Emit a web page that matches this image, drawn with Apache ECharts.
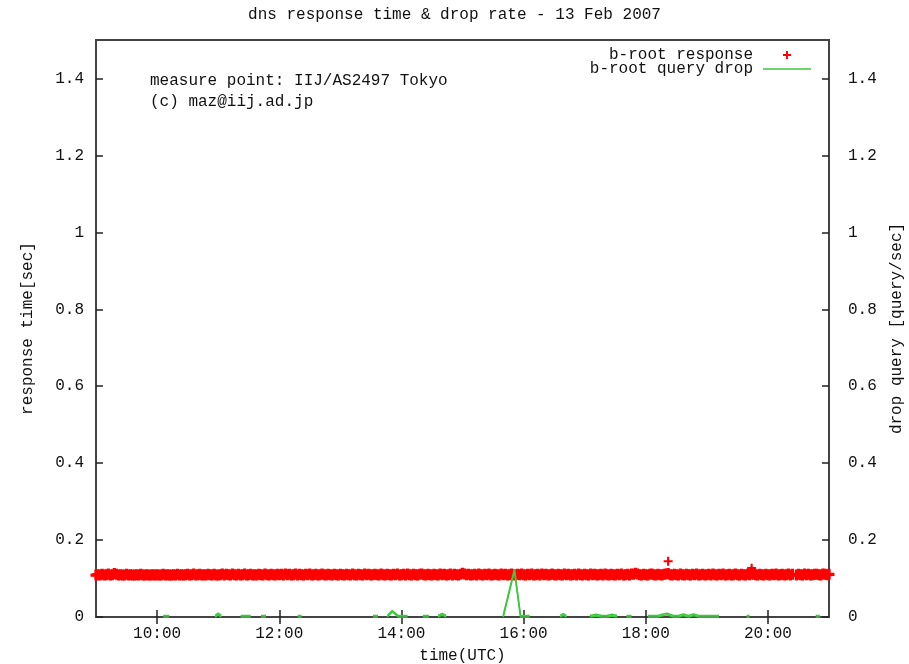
<!DOCTYPE html>
<html><head><meta charset="utf-8">
<script src="https://cdn.jsdelivr.net/npm/echarts@6/dist/echarts.min.js"></script>
<style>html,body{margin:0;padding:0;background:#fff}#c{width:909px;height:664px}</style>
</head><body><div id="c"></div>
<script>
const chartTitle = 'dns response time & drop rate - 13 Feb 2007';
const note1 = 'measure point: IIJ/AS2497 Tokyo';
const note2 = '(c) maz@iij.ad.jp';
const xTickLabels = ['10:00','12:00','14:00','16:00','18:00','20:00'];
const yTickValues = [0,0.2,0.4,0.6,0.8,1,1.2,1.4];
const yTickLabels = ['0','0.2','0.4','0.6','0.8','1','1.2','1.4'];
const xStart = '09:00', xEnd = '21:00';

// b-root response: one sample every 2 minutes from 09:00 to 21:00 (seconds)
const respStart = '09:00';
const respStepMin = 2;
const respValues = [
.109,.110,.109,.111,.109,.110,.112,.109,.110,.113,.111,.109,.110,.109,.109,.111,.109,.110,.109,.109,.110,.109,.111,.109,.109,.110,.109,.109,.110,.109,
.110,.109,.109,.111,.109,.110,.109,.109,.110,.109,.111,.109,.110,.109,.110,.111,.109,.110,.112,.109,.110,.111,.109,.110,.109,.111,.110,.109,.111,.109,
.109,.110,.112,.109,.111,.110,.109,.112,.110,.109,.111,.109,.110,.112,.109,.110,.111,.109,.110,.109,.111,.110,.109,.112,.110,.109,.111,.110,.109,.111,
.110,.111,.109,.112,.110,.111,.109,.110,.112,.109,.111,.110,.109,.111,.110,.112,.109,.110,.111,.109,.110,.112,.110,.109,.111,.110,.109,.111,.110,.109,
.111,.110,.109,.111,.110,.109,.112,.110,.109,.111,.110,.109,.112,.110,.111,.109,.110,.111,.110,.109,.112,.110,.109,.111,.110,.109,.111,.110,.112,.109,
.110,.111,.109,.112,.110,.109,.111,.110,.109,.111,.112,.110,.109,.111,.110,.109,.111,.110,.109,.112,.110,.111,.109,.110,.112,.109,.111,.110,.109,.111,
.114,.112,.110,.111,.109,.110,.111,.109,.112,.110,.109,.111,.110,.112,.109,.110,.111,.110,.109,.112,.110,.111,.109,.110,.112,.110,.109,.111,.110,.112,
.110,.109,.111,.110,.112,.109,.110,.111,.109,.112,.110,.111,.109,.110,.112,.110,.109,.111,.110,.109,.112,.110,.111,.109,.110,.111,.109,.112,.110,.109,
.111,.110,.109,.112,.110,.111,.109,.110,.111,.109,.112,.110,.109,.111,.110,.109,.111,.110,.112,.109,.110,.111,.109,.112,.111,.114,.112,.110,.109,.111,
.110,.109,.111,.112,.110,.109,.111,.110,.109,.111,.112,.113,.110,.109,.111,.110,.109,.112,.110,.109,.111,.110,.109,.111,.110,.112,.109,.110,.111,.109,
.110,.111,.109,.112,.110,.109,.111,.110,.112,.109,.110,.111,.109,.110,.112,.110,.109,.111,.110,.109,.111,.110,.112,.111,.110,.109,.111,.110,.109,.111,
.110,.109,.111,.110,.112,.109,.110,.111,.109,.110,.112,.109,.111,null,.109,.111,.110,.109,.112,.110,.111,.109,.110,.111,.111,.110,.109,.112,.111,.110,
.111
];
const respOutlierTimes = ['18:22','19:44'];
const respOutlierValues = [0.145, 0.127];

// b-root query drop (query/sec); null marks a gap in the record
const dropTimes = ['10:06','10:12',null,'10:57','11:00','11:03',null,'11:22','11:27','11:32',null,'11:42','11:47',null,
'12:18','12:22',null,'13:32','13:37',null,'13:46','13:51','13:57','14:02','14:06',null,'14:21','14:27',null,
'14:36','14:40','14:44',null,'15:40','15:51','15:57','16:01','16:06',null,'16:36','16:39','16:42',null,
'17:05','17:11','17:17','17:22','17:27','17:32',null,'17:41','17:46',null,
'18:02','18:07','18:12','18:17','18:21','18:27','18:32','18:37','18:42','18:47','18:52','18:57','19:02','19:07','19:12',null,
'19:39','19:42',null,'20:47','20:51'];
const dropValues = [0,0,null,0,0.006,0,null,0,0,0,null,0,0,null,
0,0,null,0,0,null,0,0.013,0,0,0,null,0,0,null,
0,0.005,0,null,0,0.12,0,0,0,null,0,0.005,0,null,
0,0.003,0,0,0.003,0,null,0,0,null,
0,0,0,0.004,0.006,0,0,0.004,0,0.004,0,0,0,0,0,null,
0,0,null,0,0];

const toMin = s => { const p = s.split(':'); return (+p[0]) * 60 + (+p[1]); };
const fmt = m => String(Math.floor(m / 60)).padStart(2, '0') + ':' + String(m % 60).padStart(2, '0');

const xTickVals = xTickLabels.map(toMin);
const respData = respValues.map((v, i) => [toMin(respStart) + i * respStepMin, v]);
const outData = respOutlierTimes.map((t, i) => [toMin(t), respOutlierValues[i]]);
const dropData = [];
let lastX = 0;
dropTimes.forEach((t, i) => {
  if (t === null) { dropData.push([lastX, null]); }
  else { lastX = toMin(t); dropData.push([lastX, dropValues[i]]); }
});

const FONT = 'Liberation Mono';
const FS = 16;
const TXT = '#111';
const GREEN = '#3fc83f';
const PLUS = 'path://M3.8,0H6.2V3.8H10V6.2H6.2V10H3.8V6.2H0V3.8H3.8Z';
const PLUS_THICK = 'path://M3.5,0H6.5V3.5H10V6.5H6.5V10H3.5V6.5H0V3.5H3.5Z';
const LINE_ICON = 'path://M0,0H48V1.6H0Z';
const tickStyle = {color: '#222', width: 1.5};

const chart = echarts.init(document.getElementById('c'), null, {renderer: 'canvas'});
chart.setOption({
  animation: false,
  backgroundColor: '#fff',
  textStyle: {fontFamily: FONT, color: TXT},
  title: {text: chartTitle, left: 'center', top: 2,
    textStyle: {fontFamily: FONT, fontSize: FS, fontWeight: 'normal', color: TXT}},
  grid: {left: 96, right: 80, top: 40, bottom: 47, show: true, borderColor: '#444', borderWidth: 2,
    outerBoundsMode: 'none', containLabel: false},
  legend: {
    orient: 'vertical', right: 93, top: 42, align: 'right', itemWidth: 48, itemHeight: 8, itemGap: -2,
    textStyle: {fontFamily: FONT, fontSize: FS, color: TXT, padding: [0, 5, 0, 0]},
    data: [{name: 'b-root response', icon: PLUS}, {name: 'b-root query drop', icon: LINE_ICON}]
  },
  graphic: [
    {type: 'text', left: 150, top: 73, style: {text: note1, font: FS + 'px "' + FONT + '"', fill: TXT}},
    {type: 'text', left: 150, top: 94, style: {text: note2, font: FS + 'px "' + FONT + '"', fill: TXT}}
  ],
  xAxis: [{
    type: 'value', min: toMin(xStart), max: toMin(xEnd), position: 'bottom',
    name: 'time(UTC)', nameLocation: 'middle', nameGap: 31,
    nameTextStyle: {fontFamily: FONT, fontSize: FS, color: TXT},
    axisLine: {show: false},
    axisTick: {inside: true, length: 7, customValues: xTickVals, lineStyle: tickStyle},
    axisLabel: {customValues: xTickVals, formatter: v => fmt(v), margin: 9, fontFamily: FONT, fontSize: FS, color: TXT},
    splitLine: {show: false}
  }, {
    type: 'value', min: toMin(xStart), max: toMin(xEnd), position: 'top',
    axisLine: {show: false},
    axisTick: {inside: true, length: 7, customValues: xTickVals, lineStyle: tickStyle},
    axisLabel: {show: false}, splitLine: {show: false}
  }],
  yAxis: [{
    type: 'value', min: 0, max: 1.5, position: 'left',
    name: 'response time[sec]', nameLocation: 'middle', nameGap: 60, nameRotate: 90,
    nameTextStyle: {fontFamily: FONT, fontSize: FS, color: TXT},
    axisLine: {show: false},
    axisTick: {inside: true, length: 7, customValues: yTickValues, lineStyle: tickStyle},
    axisLabel: {customValues: yTickValues, formatter: v => yTickLabels[yTickValues.indexOf(v)] ?? String(v),
      margin: 12, fontFamily: FONT, fontSize: FS, color: TXT},
    splitLine: {show: false}
  }, {
    type: 'value', min: 0, max: 1.5, position: 'right',
    name: 'drop query [query/sec]', nameLocation: 'middle', nameGap: 60, nameRotate: 90,
    nameTextStyle: {fontFamily: FONT, fontSize: FS, color: TXT},
    axisLine: {show: false},
    axisTick: {inside: true, length: 7, customValues: yTickValues, lineStyle: tickStyle},
    axisLabel: {customValues: yTickValues, formatter: v => yTickLabels[yTickValues.indexOf(v)] ?? String(v),
      margin: 19, fontFamily: FONT, fontSize: FS, color: TXT},
    splitLine: {show: false}
  }],
  series: [{
    name: 'b-root response', type: 'scatter', xAxisIndex: 0, yAxisIndex: 0,
    symbol: PLUS_THICK, symbolSize: 11, data: respData, itemStyle: {color: '#ff0000', opacity: 1},
    emphasis: {disabled: true}, z: 3
  }, {
    name: 'b-root response', type: 'scatter', xAxisIndex: 0, yAxisIndex: 0,
    symbol: PLUS, symbolSize: 9, data: outData, itemStyle: {color: '#ff0000', opacity: 1},
    emphasis: {disabled: true}, z: 3
  }, {
    name: 'b-root query drop', type: 'line', xAxisIndex: 0, yAxisIndex: 1,
    data: dropData, symbol: 'none', showSymbol: false, connectNulls: false, clip: false,
    lineStyle: {color: GREEN, width: 1.6, shadowColor: GREEN, shadowBlur: 0, shadowOffsetY: -1.5},
    itemStyle: {color: GREEN},
    emphasis: {disabled: true}, z: 4
  }]
});
</script></body></html>
